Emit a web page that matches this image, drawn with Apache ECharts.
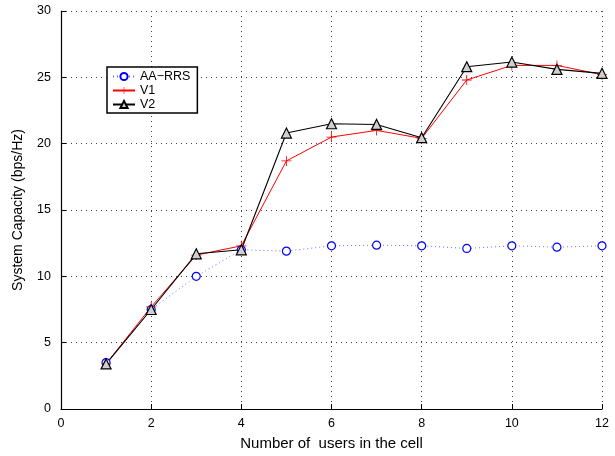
<!DOCTYPE html>
<html>
<head>
<meta charset="utf-8">
<script src="https://cdn.jsdelivr.net/npm/echarts@6/dist/echarts.min.js"></script>
<style>
html,body{margin:0;padding:0;background:#fff;}
#c{width:615px;height:456px;}
</style>
</head>
<body>
<div id="c"></div>
<script>
var users = [1,2,3,4,5,6,7,8,9,10,11,12];
var aaRRS = [3.5,7.5,10.0,12.0,11.9,12.3,12.35,12.3,12.1,12.3,12.2,12.3];
var v1 = [3.4,7.7,11.6,12.3,18.7,20.5,21.0,20.4,24.8,25.9,25.9,25.2];
var v2 = [3.4,7.5,11.7,12.0,20.8,21.5,21.45,20.45,25.8,26.15,25.6,25.3];
var xTicks = [0,2,4,6,8,10,12];
var yTicks = [0,5,10,15,20,25,30];

function pairs(ys){ return users.map(function(x,i){ return [x, ys[i]]; }); }

var plus = 'path://M-1,-0.08H-0.08V-1H0.08V-0.08H1V0.08H0.08V1H-0.08V0.08H-1Z';
var font = 'Liberation Sans, Arial, Helvetica, sans-serif';

var chart = echarts.init(document.getElementById('c'));
chart.setOption({
  animation:false,
  backgroundColor:'#fff',
  grid:{left:61,right:13,top:11,bottom:45,containLabel:false},
  legend:{
    orient:'vertical', left:107, top:67,
    padding:[3,7,2,5], itemGap:1, itemWidth:22, itemHeight:9,
    borderColor:'#000', borderWidth:1.5, backgroundColor:'#fff',
    textStyle:{fontFamily:font,fontSize:12.5,color:'#000'},
    data:['AA\u2212RRS','V1','V2']
  },
  xAxis:{
    type:'value', min:0, max:12, interval:2,
    name:'Number of  users in the cell', nameLocation:'middle', nameGap:27,
    nameTextStyle:{fontFamily:font,fontSize:15,color:'#000'},
    axisLine:{show:true,onZero:false,lineStyle:{color:'#000',width:1.2}},
    axisTick:{show:true,inside:true,length:5,lineStyle:{color:'#000'}},
    axisLabel:{fontFamily:font,fontSize:12.5,color:'#000',margin:8,
      formatter:function(v){ return xTicks.indexOf(v)>=0 ? String(v) : ''; }},
    splitLine:{show:true,lineStyle:{type:[1,4],color:'#444',width:1}}
  },
  yAxis:{
    type:'value', min:0, max:30, interval:5,
    name:'System Capacity (bps/Hz)', nameLocation:'middle', nameGap:36,
    nameTextStyle:{fontFamily:font,fontSize:14,color:'#000'},
    axisLine:{show:true,onZero:false,lineStyle:{color:'#000',width:1.2}},
    axisTick:{show:true,inside:true,length:5,lineStyle:{color:'#000'}},
    axisLabel:{fontFamily:font,fontSize:12.5,color:'#000',margin:10,
      formatter:function(v){ return yTicks.indexOf(v)>=0 ? String(v) : ''; }},
    splitLine:{show:true,lineStyle:{type:[1,4],color:'#444',width:1}}
  },
  series:[
    {name:'AA\u2212RRS', type:'line', data:pairs(aaRRS),
     symbol:'circle', symbolSize:8,
     lineStyle:{color:'#6f6fff',width:1,type:[1,3]},
     itemStyle:{color:'#fff',borderColor:'#0000ff',borderWidth:1.2}},
    {name:'V1', type:'line', data:pairs(v1),
     symbol:plus, symbolSize:10,
     lineStyle:{color:'#ff0000',width:1},
     itemStyle:{color:'#ff0000',borderColor:'#ff0000',borderWidth:0}},
    {name:'V2', type:'line', data:pairs(v2),
     symbol:'triangle', symbolSize:10,
     lineStyle:{color:'#000',width:1.1},
     itemStyle:{color:'#cfcfcf',borderColor:'#000',borderWidth:1.2}}
  ]
});
</script>
</body>
</html>
